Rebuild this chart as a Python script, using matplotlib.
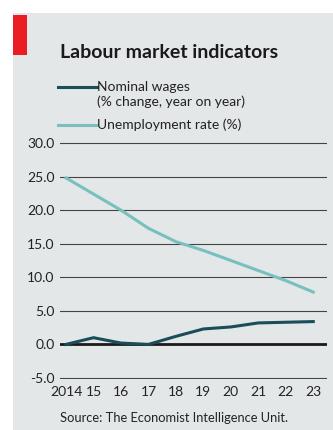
import matplotlib.pyplot as plt
from matplotlib.patches import Rectangle
from matplotlib.lines import Line2D

years = [2014, 2015, 2016, 2017, 2018, 2019, 2020, 2021, 2022, 2023]
year_labels = ['2014', '15', '16', '17', '18', '19', '20', '21', '22', '23']
wages = [0.0, 1.0, 0.2, 0.0, 1.2, 2.3, 2.6, 3.2, 3.3, 3.4]
unemployment = [24.8, 22.4, 20.0, 17.3, 15.3, 14.0, 12.5, 11.0, 9.5, 7.8]
y_ticks = [-5, 0, 5, 10, 15, 20, 25, 30]

dark = '#1b4c5a'
light = '#78c0bd'
bg = '#e4e7e8'
font = 'Lato'

W, H = 333, 430
fig = plt.figure(figsize=(W / 100, H / 100), dpi=100)
fig.patch.set_facecolor('white')

# grey panel and red flag
fig.patches.append(Rectangle((13 / W, 0), 1, 1 - 13 / H, transform=fig.transFigure,
                             facecolor=bg, edgecolor='none', zorder=0))
fig.patches.append(Rectangle((13 / W, 1 - 55 / H), 14 / W, 40 / H, transform=fig.transFigure,
                             facecolor='#ec1c24', edgecolor='none', zorder=1))

fig.text(60 / W, 1 - 52 / H, 'Labour market indicators', fontsize=14, fontweight='bold',
         family=font, color='#1a1a1a', va='center', ha='left')

# legend
fig.lines.append(Line2D([58 / W, 97 / W], [1 - 87 / H, 1 - 87 / H], transform=fig.transFigure,
                        color=dark, lw=2.2))
fig.lines.append(Line2D([58 / W, 97 / W], [1 - 125 / H, 1 - 125 / H], transform=fig.transFigure,
                        color=light, lw=2.2))
fig.text(97 / W, 1 - 87 / H, 'Nominal wages', fontsize=10, family=font, color='#222222',
         va='center', ha='left')
fig.text(97 / W, 1 - 102 / H, '(% change, year on year)', fontsize=10, family=font,
         color='#222222', va='center', ha='left')
fig.text(97 / W, 1 - 125 / H, 'Unemployment rate (%)', fontsize=10, family=font,
         color='#222222', va='center', ha='left')

ax = fig.add_axes([60 / W, 1 - 379.3 / H, 267 / W, (379.3 - 141.7) / H])
ax.set_zorder(3)
ax.set_facecolor('none')
ax.set_xlim(2013.78, 2023.5)
ax.set_ylim(-5.2, 30.2)

for v in y_ticks:
    if v == 0:
        ax.axhline(v, color='#1a1a1a', lw=2.0, zorder=1)
    else:
        ax.axhline(v, color='#444444', lw=0.8, zorder=1)

ax.plot(years, unemployment, color=light, lw=2.2, zorder=3)
ax.plot(years, wages, color=dark, lw=2.2, zorder=3)

for s in ax.spines.values():
    s.set_visible(False)
ax.set_yticks(y_ticks)
ax.set_yticklabels([f'{v:.1f}' for v in y_ticks])
ax.set_xticks(years)
ax.set_xticklabels(year_labels)
ax.tick_params(axis='y', length=0, pad=4, labelsize=10, labelcolor='#222222')
ax.tick_params(axis='x', length=0, pad=5, labelsize=10, labelcolor='#222222')
for lab in ax.get_xticklabels() + ax.get_yticklabels():
    lab.set_family(font)

fig.text(60 / W, 1 - 418 / H, 'Source: The Economist Intelligence Unit.', fontsize=9.3,
         family=font, color='#222222', va='center', ha='left')

fig.savefig('out.png', dpi=100, facecolor=fig.get_facecolor())
